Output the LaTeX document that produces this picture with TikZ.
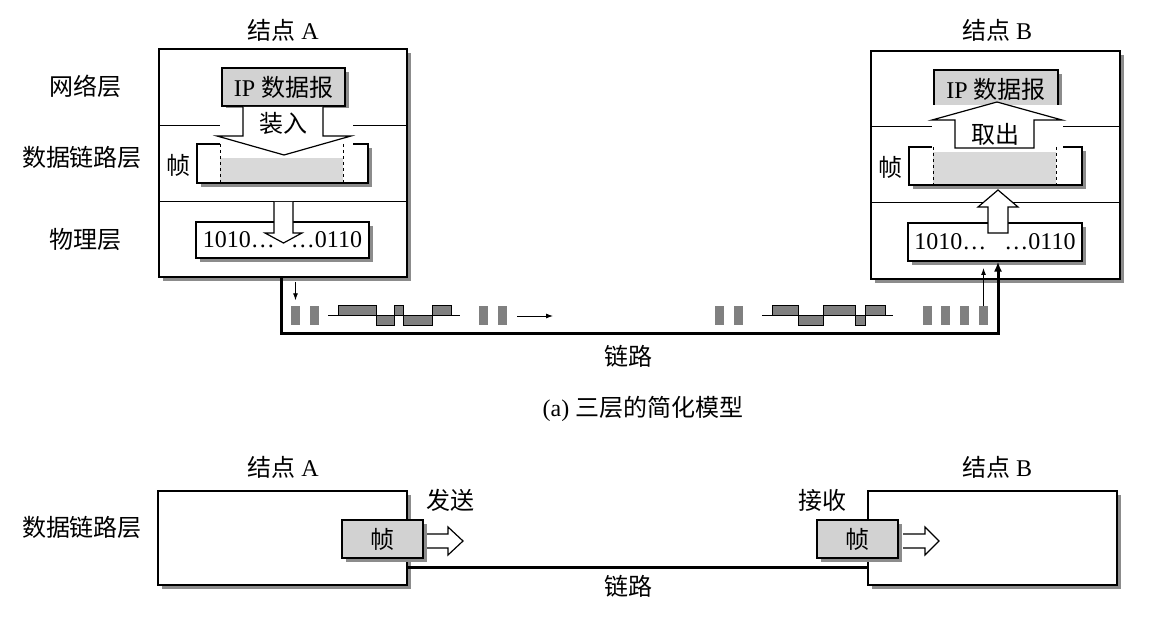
\documentclass[tikz,border=0pt]{standalone}
\usepackage{fontspec}
\setmainfont{Liberation Serif}
\newfontfamily\cjk{Noto Sans CJK SC}
\newcommand{\zhs}[1]{{\cjk #1}}
\usetikzlibrary{shadows,arrows.meta}
\tikzset{
  box/.style={draw, line width=1.2pt, fill=white, inner sep=0pt,
    drop shadow={shadow xshift=4pt, shadow yshift=-4pt, opacity=1, fill=black!45}},
  sepline/.style={line width=1pt},
  sq/.style={fill=gray, draw=none, minimum width=9pt, minimum height=19pt, inner sep=0pt},
  wave/.style={draw, line width=1pt, fill=gray},
  link/.style={line width=3pt},
  thinarrow/.style={line width=0.9pt, -{Latex[length=7pt,width=5pt]}},
  hollow/.style={line width=1.2pt, fill=white},
  lbl/.style={inner sep=0pt},
}
\begin{document}
\begin{tikzpicture}[x=1pt,y=-1pt,font=\fontsize{24}{28}\selectfont]
\useasboundingbox[fill=white] (0,0) rectangle (1160,620);

% ---------------- (a) top ----------------
% labels
\node[lbl] (tA) at (283,30) {\zhs{结点} A};
\node[lbl] (tB) at (997,30) {\zhs{结点} B};
\node[lbl] (lnet) at (85,86) {\zhs{网络层}};
\node[lbl] (ldl) at (82,157) {\zhs{数据链路层}};
\node[lbl] (lph) at (85,239) {\zhs{物理层}};

% Node A
\node[box, minimum width=248pt, minimum height=228pt] (A) at (283,163) {};
\draw[sepline] (A.west |- 0,126) -- (A.east |- 0,126);
\draw[sepline] (A.west |- 0,202) -- (A.east |- 0,202);
\node[box, fill=gray!35, minimum width=123pt, minimum height=38pt] (ipA) at (283.5,87) {IP \zhs{数据报}};
\node[box, minimum width=171pt, minimum height=39pt] (frA) at (282.5,163.5) {};
\node[lbl] (zhenA) at (178,165) {\zhs{帧}};
\fill[white] (220,108) rectangle (353,158);
\fill[gray!30] (220,158) rectangle (343,182.4);
\draw[dashed, line width=1pt] (220,144) -- (220,183);
\draw[dashed, line width=1pt] (343,144) -- (343,183);
\draw[hollow] (243,107) -- (243,136) -- (217,136) -- (284,155) -- (351,136) -- (323,136) -- (323,107);
\node[lbl] (zr) at (283,123) {\zhs{装入}};
\node[box, minimum width=173pt, minimum height=36pt] (phA) at (282.5,240) {1010…\hspace{16pt}…0110};
\draw[hollow] (274,202) -- (274,233) -- (265,233) -- (283.5,243) -- (302,233) -- (293,233) -- (293,202);

% Node B
\node[box, minimum width=249pt, minimum height=228pt] (B) at (995.5,165) {};
\draw[sepline] (B.west |- 0,127) -- (B.east |- 0,127);
\draw[sepline] (B.west |- 0,203) -- (B.east |- 0,203);
\node[box, fill=gray!35, minimum width=124pt, minimum height=38pt] (ipB) at (996,89) {IP \zhs{数据报}};
\node[box, minimum width=173pt, minimum height=38pt] (frB) at (995.5,166) {};
\node[lbl] (zhenB) at (890,167) {\zhs{帧}};
\fill[white] (932,105) rectangle (1063,152);
\fill[gray!30] (933,152) rectangle (1056,184.4);
\draw[dashed, line width=1pt] (933,147) -- (933,185);
\draw[dashed, line width=1pt] (1056,147) -- (1056,185);
\draw[hollow] (955,148) -- (955,120) -- (932,120) -- (997,102) -- (1062,120) -- (1034,120) -- (1034,148) -- cycle;
\node[lbl] (qc) at (995,134) {\zhs{取出}};
\node[box, minimum width=174pt, minimum height=38pt] (phB) at (995,242) {1010…\hspace{18pt}…0110};
\draw[hollow] (988,233) -- (988,207) -- (978,207) -- (998,190) -- (1018,207) -- (1008,207) -- (1008,233) -- cycle;

% signal squares
\node[sq] (sa1) at (295.5,316) {};
\node[sq] (sa2) at (314.5,316) {};
\node[sq] (sa3) at (483.5,316) {};
\node[sq] (sa4) at (502.5,316) {};
\node[sq] (sb1) at (719.5,316) {};
\node[sq] (sb2) at (738.5,316) {};
\node[sq] (sb3) at (927.5,316) {};
\node[sq] (sb4) at (945.5,316) {};
\node[sq] (sb5) at (964.5,316) {};
\node[sq] (sb6) at (983.5,316) {};

% waveform A
\draw[wave] (338,306) rectangle (376,316);
\draw[wave] (376,316) rectangle (394,326);
\draw[wave] (394,306) rectangle (403,316);
\draw[wave] (403,316) rectangle (432,326);
\draw[wave] (432,306) rectangle (451,316);
\draw[line width=1pt] (328,316) -- (460,316);
% waveform B
\draw[wave] (772,306) rectangle (798,316);
\draw[wave] (798,316) rectangle (823,326);
\draw[wave] (823,306) rectangle (855,316);
\draw[wave] (855,316) rectangle (865,326);
\draw[wave] (865,306) rectangle (885,316);
\draw[line width=1pt] (762,316) -- (893,316);

% link
\coordinate (lk) at (998,334);
\draw[link, -{Latex[length=10pt,width=8pt]}] ([xshift=-2pt]A.south) |- (lk) -- ([xshift=3pt]phB.south);
\node[lbl] (llink) at (628,356) {\zhs{链路}};

% thin arrows
\coordinate (txA) at (295.5,282);
\draw[thinarrow] (txA) -- ([yshift=6pt]sa1.north);
\coordinate (txB) at (983.5,268);
\draw[thinarrow] (sb6.north) -- (txB);
\coordinate (goR) at (553,316);
\draw[thinarrow] ([xshift=10pt]sa4.east) -- (goR);

\node[lbl] (capa) at (643,409) {(a) \zhs{三层的简化模型}};

% ---------------- bottom ----------------
\node[lbl] (tA2) at (283,467) {\zhs{结点} A};
\node[lbl] (tB2) at (997,467) {\zhs{结点} B};
\node[lbl] (ldl2) at (82,527) {\zhs{数据链路层}};
\node[box, minimum width=249pt, minimum height=94pt] (A2) at (282.5,538) {};
\node[box, minimum width=249pt, minimum height=94pt] (B2) at (992.5,538) {};
\draw[link] ([yshift=-29pt]A2.east) -- ([yshift=-29pt]B2.west);
\node[lbl] (llink2) at (628,586) {\zhs{链路}};
\node[box, fill=gray!35, minimum width=81pt, minimum height=38pt] (fA2) at (382.5,539) {\zhs{帧}};
\node[box, fill=gray!35, minimum width=81pt, minimum height=38pt] (fB2) at (857.5,539) {\zhs{帧}};
\draw[hollow] (427,534) -- (448,534) -- (448,527) -- (463,541) -- (448,555) -- (448,548) -- (427,548);
\draw[hollow] (903,534) -- (925,534) -- (925,527) -- (939,541) -- (925,555) -- (925,548) -- (903,548);
\node[lbl] (send) at (450,500) {\zhs{发送}};
\node[lbl] (recv) at (822,500) {\zhs{接收}};
\end{tikzpicture}
\end{document}
